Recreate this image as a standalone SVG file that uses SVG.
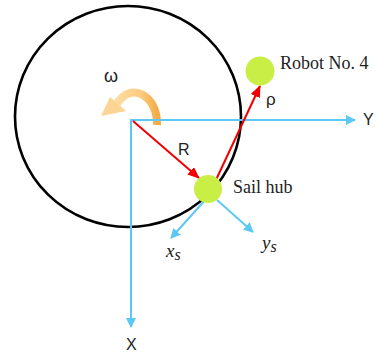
<svg xmlns="http://www.w3.org/2000/svg" width="375" height="353" viewBox="0 0 375 353">
<style>
.sans{font-family:"Liberation Sans",Arial,sans-serif;fill:#222}
.serif{font-family:"Liberation Serif","Times New Roman",serif;fill:#222}
.ax{stroke:#5bc8f5;stroke-width:2;fill:none}
.red{stroke:#f00000;stroke-width:2;fill:none}
.ball{fill:#c9ee46}
</style>
<defs>
<marker id="ab" viewBox="0 0 10 10" refX="9" refY="5" markerWidth="10" markerHeight="10" markerUnits="userSpaceOnUse" orient="auto"><path d="M0,0 L10,5 L0,10 z" fill="#5bc8f5"/></marker>
<marker id="ar" viewBox="0 0 12 10" refX="11" refY="5" markerWidth="12" markerHeight="10" markerUnits="userSpaceOnUse" orient="auto"><path d="M0,0 L12,5 L0,10 z" fill="#f00000"/></marker>
<linearGradient id="og" x1="0" y1="0" x2="1" y2="0">
<stop offset="0" stop-color="#fddba2"/>
<stop offset="0.6" stop-color="#fbcc80"/>
<stop offset="1" stop-color="#f3ab45"/>
</linearGradient>
</defs>
<g id="disc">
<ellipse cx="128" cy="116.5" rx="113" ry="110.5" fill="none" stroke="#000" stroke-width="2.6"/>
</g>
<g id="rotation">
<path d="M157,125 C158,95 130,81 117,104" fill="none" stroke="url(#og)" stroke-width="8"/>
<polygon points="101,116 110,97 126,111" fill="#fcd595"/>
<text class="sans" x="104" y="82" font-size="18">ω</text>
</g>
<g id="connectors">
<line class="ax" x1="131" y1="120" x2="355" y2="120" marker-end="url(#ab)"/>
<line class="ax" x1="131" y1="119" x2="131" y2="327" marker-end="url(#ab)"/>
<line class="ax" x1="207" y1="198" x2="171" y2="238" marker-end="url(#ab)"/>
<line class="ax" x1="217" y1="200" x2="253" y2="232" marker-end="url(#ab)"/>
<line class="red" x1="133" y1="121" x2="199" y2="178" marker-end="url(#ar)"/>
<line class="red" x1="215" y1="182" x2="260" y2="86" marker-end="url(#ar)"/>
</g>
<g id="hub">
<circle class="ball" cx="208" cy="189" r="14"/>
<text class="serif" x="233" y="193" font-size="18">Sail hub</text>
</g>
<g id="robot">
<circle class="ball" cx="260" cy="71" r="14.5"/>
<text class="serif" x="280" y="69" font-size="18">Robot No. 4</text>
</g>
<g id="labels">
<text class="sans" x="178" y="155" font-size="16">R</text>
<text class="sans" x="266" y="105" font-size="17">ρ</text>
<text class="sans" x="363" y="125" font-size="16">Y</text>
<text class="sans" x="126" y="350" font-size="16">X</text>
<text class="serif" x="166" y="257" font-size="19" font-style="italic">x<tspan font-size="16" dy="3">s</tspan></text>
<text class="serif" x="262" y="249" font-size="19" font-style="italic">y<tspan font-size="16" dy="3">s</tspan></text>
</g>
</svg>
